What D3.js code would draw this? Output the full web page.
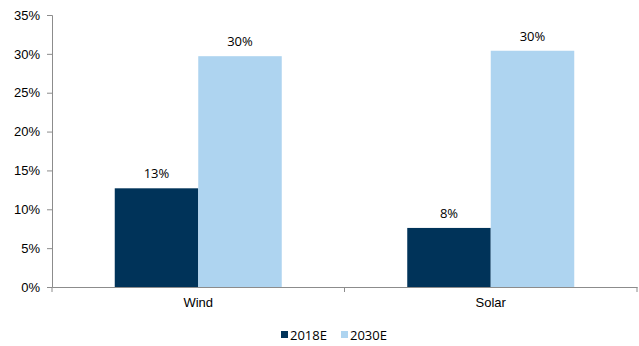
<!DOCTYPE html>
<html>
<head>
<meta charset="utf-8">
<script src="https://cdn.jsdelivr.net/npm/d3@7/dist/d3.min.js"></script>
<style>
html,body{margin:0;padding:0;background:#fff;}
svg{display:block;font-family:"Open Sans","Noto Sans",sans-serif;}
</style>
</head>
<body>
<svg id="chart" width="639" height="346"></svg>
<script>
const categories = ["Wind", "Solar"];
const seriesNames = ["2018E", "2030E"];
const values2018E = [12.7, 7.6];
const values2030E = [29.7, 30.4];
const dataLabels2018E = ["13%", "8%"];
const dataLabels2030E = ["30%", "30%"];
const yTicks = [0, 5, 10, 15, 20, 25, 30, 35];
const colors = ["#003359", "#aed4f0"];

const svg = d3.select("#chart");
const margin = {left: 52, right: 2, top: 15, bottom: 59};
const W = 639, H = 346;
const x0 = margin.left, x1 = W - margin.right;
const yB = H - margin.bottom, yT = margin.top;

const x = d3.scaleBand().domain(categories).range([x0, x1]).paddingInner(0).paddingOuter(0);
const y = d3.scaleLinear().domain([0, 35]).range([yB, yT]);
const groupW = 167;
const xs = d3.scaleBand().domain(seriesNames).range([0, groupW]).padding(0);

const series = [values2018E, values2030E];
const labels = [dataLabels2018E, dataLabels2030E];

// y axis
const yAxis = svg.append("g").attr("transform", `translate(${x0},0)`)
  .call(d3.axisLeft(y).tickValues(yTicks).tickSize(5).tickFormat(d => d + "%"));
yAxis.select(".domain").attr("stroke", "#8c8c8c");
yAxis.selectAll(".tick line").attr("stroke", "#8c8c8c");
yAxis.selectAll(".tick text").attr("font-size", 13).attr("fill", "#000").attr("x", -12);

// bars
categories.forEach((c, i) => {
  const gx = x(c) + (x.bandwidth() - groupW) / 2;
  seriesNames.forEach((s, j) => {
    const v = series[j][i];
    svg.append("rect")
      .attr("x", gx + xs(s))
      .attr("y", y(v))
      .attr("width", xs.bandwidth())
      .attr("height", y(0) - y(v))
      .attr("fill", colors[j]);
    svg.append("text")
      .attr("x", gx + xs(s) + xs.bandwidth() / 2)
      .attr("y", y(v) - 10)
      .attr("text-anchor", "middle")
      .attr("font-size", 13)
      .attr("fill", "#000")
      .text(labels[j][i]);
  });
});

// x axis
const xAxis = svg.append("g").attr("transform", `translate(0,${yB})`)
  .call(d3.axisBottom(x).tickSize(0).tickPadding(11));
xAxis.select(".domain").attr("stroke", "#8c8c8c");
xAxis.selectAll(".tick text").attr("font-size", 13).attr("fill", "#000");
// boundary ticks
const bounds = [x0, x(categories[1]), x1];
svg.append("g").selectAll("line").data(bounds).join("line")
  .attr("x1", d => d).attr("x2", d => d)
  .attr("y1", yB).attr("y2", yB + 5)
  .attr("stroke", "#8c8c8c");

// legend
const legend = svg.append("g");
const legX = [281, 341];
seriesNames.forEach((s, j) => {
  legend.append("rect").attr("x", legX[j]).attr("y", 331).attr("width", 7).attr("height", 7).attr("fill", colors[j]);
  legend.append("text").attr("x", legX[j] + 9).attr("y", 339.5).attr("font-size", 13).attr("fill", "#000").text(s);
});
</script>
</body>
</html>
